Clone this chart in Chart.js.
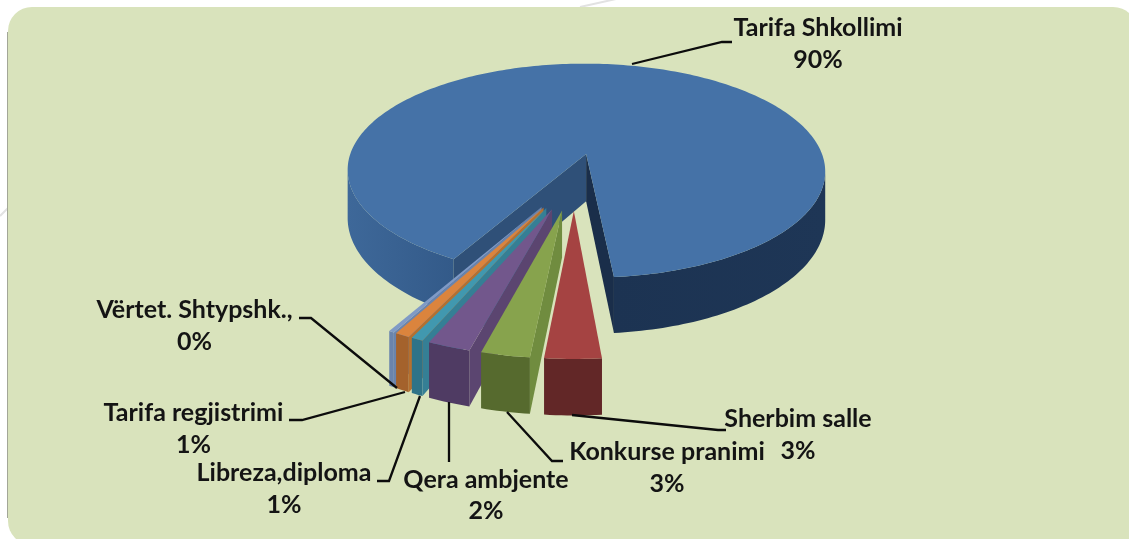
<!DOCTYPE html>
<html><head><meta charset="utf-8">
<style>html,body{margin:0;padding:0;background:#fff}#w{width:1129px;height:539px}canvas{display:block}</style>
<script src="https://cdn.jsdelivr.net/npm/chart.js@4"></script>
</head><body><div id="w"><canvas id="c" width="1129" height="539"></canvas></div>
<script>
const categories = ['Tarifa Shkollimi','Sherbim salle','Konkurse pranimi','Qera ambjente','Libreza,diploma','Tarifa regjistrimi','Vërtet. Shtypshk.,'];
const values = [90.3,3.0,2.6,2.3,0.65,0.8,0.3];
const topColors = ['#4572a7','#a54342','#87a34d','#72578c','#4198af','#db843d','#7f9ac6'];
const frontColors = ['#2e5480','#622727','#566a2e','#4f3b63','#2e7388','#a4622c','#6a84ad'];
const sideColors = ['#2f5078','#7a3333','#708c3f','#5b4570','#357f95','#b5702f','#6a84ad'];
const rightWall = ['#1c3352','#1e3656'], cutRight = '#1a2e4a', leftWall = ['#3e6899','#335a89'];

const view = {cx:574, cy:180, q:0.46, k:0.00066, rotation:209.5};
const explodeBy = [60,64.5,64.5,64.5,64.5,64.5,64.5];
const depthBy = [49,45,45,45,45,45,45];
const labelLayout = [
 {x:818,y:28,lines:2,dy:32,path:[[632,64],[722,42],[732,42]]},
 {x:798,y:419,lines:2,dy:32,path:[[572,415],[718,430],[726,430]]},
 {x:667,y:452,lines:2,dy:32,path:[[507,412],[552,461],[563,461]]},
 {x:486,y:480,lines:2,dy:31,path:[[449,402],[449,462]]},
 {x:284,y:473,lines:2,dy:32,path:[[420,396],[389,481],[377,481]]},
 {x:193.5,y:413,lines:2,dy:32,path:[[405,392],[302,420],[289,420]]},
 {x:194.5,y:310,lines:2,dy:32,path:[[397,388],[311,318],[299,318]]}
];

function project(X,Y,Z){
  const w = 1/(1 - view.k*Y);
  return [view.cx + X*w, view.cy + (Y*view.q + Z)*w];
}
function poly(ctx,pts,fill){
  ctx.beginPath();
  pts.forEach((p,i)=>i?ctx.lineTo(p[0],p[1]):ctx.moveTo(p[0],p[1]));
  ctx.closePath();
  ctx.fillStyle=fill; ctx.fill();
}
function hGrad(ctx,x0,x1,cols){
  const g=ctx.createLinearGradient(x0,0,x1,0);
  g.addColorStop(0,cols[0]); g.addColorStop(1,cols[1]);
  return g;
}
function drawSlice(ctx,arc,i){
  const {startAngle:s,endAngle:e,outerRadius:R}=arc.getProps(['startAngle','endAngle','outerRadius'],true);
  const mid=(s+e)/2, ox=Math.cos(mid)*explodeBy[i], oy=Math.sin(mid)*explodeBy[i];
  const n=Math.max(2,Math.ceil((e-s)/0.02));
  const plan=[[ox,oy]];
  for(let j=0;j<=n;j++){const t=s+(e-s)*j/n; plan.push([ox+Math.cos(t)*R,oy+Math.sin(t)*R]);}
  const top=plan.map(p=>project(p[0],p[1],0));
  const bot=plan.map(p=>project(p[0],p[1],depthBy[i]));
  const m=plan.length;
  // outer wall: contiguous runs of edges that face the viewer
  let run=[];
  const flush=()=>{
    if(run.length>1){
      const pts=run.map(j=>top[j]).concat(run.slice().reverse().map(j=>bot[j]));
      const xs=pts.map(p=>p[0]), x0=Math.min(...xs), x1=Math.max(...xs);
      const fill = i===0 ? hGrad(ctx,x0,x1,(x0>view.cx?rightWall:leftWall)) : frontColors[i];
      poly(ctx,pts,fill);
    }
    run=[];
  };
  for(let j=1;j<m-1;j++){
    if(top[j+1][0]<top[j][0]){ if(!run.length) run.push(j); run.push(j+1); }
    else flush();
  }
  flush();
  const side=(a,b,col)=>{ if(top[b][0]<top[a][0]) poly(ctx,[top[a],top[b],bot[b],bot[a]],col); };
  side(0,1,sideColors[i]);
  side(m-1,0,i===0?cutRight:sideColors[i]);
  poly(ctx,top,topColors[i]);
}
const paintOrder=[0,6,5,4,3,2,1];
const pie3d={
  id:'pie3d',
  beforeDraw(chart){
    const c=chart.ctx; c.save();
    c.fillStyle='#fff'; c.fillRect(0,0,1129,539);
    c.strokeStyle='#e2e2e2'; c.lineWidth=2;
    c.beginPath(); c.moveTo(580,7); c.lineTo(616,-1); c.moveTo(0,216); c.lineTo(8,208); c.stroke();
    c.beginPath(); c.moveTo(7.5,32); c.lineTo(7.5,518);
    c.strokeStyle='#a3a797'; c.lineWidth=1; c.stroke();
    c.beginPath(); c.roundRect(8,7,1129,538,[24]);
    c.fillStyle='#d9e3bc'; c.fill();
    c.restore();
  },
  beforeDatasetDraw(chart){
    const c=chart.ctx, d=chart.getDatasetMeta(0).data;
    c.save();
    paintOrder.forEach(i=>drawSlice(c,d[i],i));
    c.restore();
    return false;
  },
  afterDatasetsDraw(chart){
    const c=chart.ctx; c.save();
    c.strokeStyle='#0c0c0c'; c.lineWidth=2.3; c.lineJoin='miter';
    labelLayout.forEach(l=>{
      c.beginPath(); l.path.forEach((p,i)=>i?c.lineTo(p[0],p[1]):c.moveTo(p[0],p[1])); c.stroke();
    });
    c.fillStyle='#141414'; c.textAlign='center'; c.textBaseline='middle';
    c.font='bold 25px Lato';
    labelLayout.forEach((l,i)=>{
      for(let k=0;k<l.lines;k++) c.fillText(k?Math.round(values[i])+'%':categories[i],l.x,l.y+k*l.dy);
    });
    c.restore();
  }
};
new Chart(document.getElementById('c'),{
  type:'pie',
  data:{labels:categories,datasets:[{data:values,backgroundColor:topColors,borderWidth:0}]},
  options:{
    responsive:false,animation:false,rotation:view.rotation,
    layout:{padding:{left:0,right:0,top:24,bottom:25}},
    radius:245,
    plugins:{legend:{display:false},tooltip:{enabled:false},title:{display:false}}
  },
  plugins:[pie3d]
});
</script></body></html>
